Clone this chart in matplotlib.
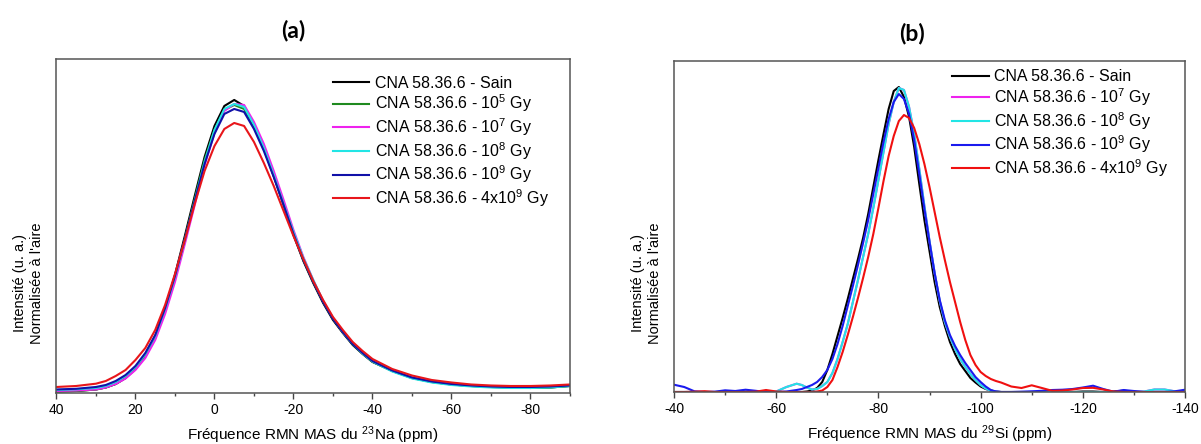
import matplotlib
matplotlib.use("Agg")
import matplotlib.pyplot as plt
from matplotlib.ticker import MultipleLocator

plt.rcParams["font.family"] = ["Liberation Sans", "DejaVu Sans"]
plt.rcParams["mathtext.fontset"] = "custom"
plt.rcParams["mathtext.rm"] = "Liberation Sans"
plt.rcParams["mathtext.it"] = "Liberation Sans:italic"
plt.rcParams["axes.unicode_minus"] = False

# --- (a) RMN 23Na : intensité normalisée (u. a.) ---
na_ppm = [40, 35, 30, 27.5, 25, 22.5, 20, 17.5, 15, 12.5, 10, 7.5, 5, 2.5, 0,
          -2.5, -5, -7.5, -10, -12.5, -15, -17.5, -20, -22.5, -25, -27.5, -30,
          -32.5, -35, -37.5, -40, -45, -50, -55, -60, -65, -70, -75, -80, -85, -90]
na_sain = [1.5, 2, 3.5, 5.5, 9, 15, 24, 37, 56, 84, 118, 157, 197, 236, 267,
           287, 293, 287, 268, 245, 217, 188, 158, 132, 110, 90, 73,
           60, 48, 39, 31, 22, 15, 11, 8.5, 7, 6, 5.5, 5, 5.5, 7]
na_1e5 = [1.5, 2, 3.5, 5.5, 9, 15, 24, 37, 55, 82, 115, 154, 194, 233, 263,
          283, 288, 284, 267, 244, 217, 189, 159, 133, 111, 91, 74,
          61, 49, 39.5, 31.5, 22, 15, 11, 8.5, 7, 6, 5.5, 5, 5.5, 7]
na_1e7 = [2, 2.5, 3.5, 5.5, 9, 14.5, 23, 35, 53, 79, 111, 149, 188, 228, 260,
          282, 289, 288, 271, 249, 222, 193, 163, 136, 113, 92, 75,
          61, 49.5, 40, 32, 22.5, 15.5, 11.5, 9, 7.5, 6.5, 6, 6, 6.5, 7.5]
na_1e8 = [3, 3.7, 5, 7, 11, 17, 26, 39, 57, 84, 116, 153, 192, 231, 263,
          284, 289, 286, 268, 245, 218, 189, 161, 135, 113, 92, 75,
          61, 49, 39.5, 31.5, 21.5, 14.5, 10.5, 8, 6.5, 5.5, 5, 5, 5.5, 7]
na_1e9 = [3.5, 4.2, 6, 8, 12, 18, 27, 40, 58, 85, 117, 154, 192, 229, 259,
          279, 284, 281, 264, 242, 216, 188, 159, 133, 111, 91, 74,
          61, 49, 40, 32, 22.5, 15.5, 11.5, 9, 7.5, 6.5, 6, 6, 6.5, 7.5]
na_4e9 = [6, 7, 9.3, 12, 17, 23, 33, 45, 63, 88, 119, 153, 189, 222, 247,
          264, 270, 267, 251, 230, 207, 182, 157, 134, 112, 93, 76,
          63, 51, 42, 34, 24, 17.5, 13, 10.5, 8.5, 7.5, 7, 7, 7.5, 8.5]

# --- (b) RMN 29Si ---
si_ppm = [-40, -42, -44, -46, -48, -50, -52, -54, -56, -58, -60, -62,
          -64, -65, -66, -67, -68, -69, -70, -71, -72, -73, -74, -75, -76, -77,
          -78, -79, -80, -81, -82, -83, -84,
          -85, -86, -87, -88, -89, -90, -91, -92, -93, -94, -95, -96, -97, -98,
          -99, -100, -101, -102, -103, -104,
          -106, -108, -110, -112, -114, -116, -118, -120, -122, -124, -126,
          -128, -130, -132, -134, -136, -138, -140]
si_sain = [0, 0, 0, 0, 0, 0.3, 0, 0.3, 0, 0, 0, 0,
           0, 0, 0.5, 1.5, 4, 10, 22, 38, 56, 74, 93, 113, 133, 154,
           178, 205, 232, 258, 283, 301, 305,
           295, 275, 245, 208, 172, 141, 110, 85, 66, 50, 38, 28, 21, 14,
           9.5, 5.5, 3, 1.5, 0.5, 0,
           0, 0, 0, 0, 0, 0, 0, 0.5, 0.5, 0, 0.5,
           1.3, 0.3, 0, 0, 0, 0, 0]
si_1e8 = [0, 0, 0, 0, 0, 0, 0, 0, 0, 0, 0.5, 5,
          8.3, 7, 4.5, 2.5, 3, 6, 10, 19, 33, 50, 68, 90, 112, 135,
          158, 184, 212, 240, 268, 290, 304,
          302, 285, 258, 223, 186, 151, 119, 91, 70, 55, 43, 33, 25, 18,
          12, 7, 3.5, 1.2, 0.3, 0,
          0, 0, 0, 0, 0, 0, 0, 0, 0, 0, 0,
          0, 0, 0.5, 2.5, 2.5, 0.7, 0.8]
si_1e7 = si_1e8  # courbe 10^7 Gy masquée sous la 10^8 Gy
si_1e9 = [7.3, 5, 0.7, 0, 0.3, 1.7, 1, 2.3, 1.2, 0, 0, 0.5,
          2, 3, 5, 7, 10, 15, 22, 33, 48, 66, 86, 106, 127, 149,
          172, 198, 224, 250, 273, 290, 298,
          293, 278, 252, 218, 183, 150, 119, 92, 72, 57, 46, 37, 29, 22,
          15, 10, 5.5, 2, 0.5, 0,
          0, 0.3, 0.7, 1.2, 2, 2.3, 3, 4.5, 6.3, 3, 0.3,
          2, 1, 0, 0, 0, 0.7, 2.3]
si_4e9 = [0, 0, 0.3, 0.8, 0, 0, 0, 0, 0.3, 2, 0.5, 0,
          0, 0, 0, 0, 0.5, 1.5, 5, 12, 25, 40, 57, 75, 94, 114,
          135, 158, 184, 211, 236, 256, 271,
          277, 274, 264, 248, 228, 205, 180, 155, 132, 110, 90, 70, 52, 37,
          27, 20, 16, 13, 11, 9.5,
          5.5, 4, 6.7, 4, 1.2, 1.5, 2.5, 4, 4.2, 2.5, 0.5,
          0, 0, 0, 0, 0, 0, 0]

labels_na = ["CNA 58.36.6 - Sain", "CNA 58.36.6 - 10$^{5}$ Gy",
             "CNA 58.36.6 - 10$^{7}$ Gy", "CNA 58.36.6 - 10$^{8}$ Gy",
             "CNA 58.36.6 - 10$^{9}$ Gy", "CNA 58.36.6 - 4x10$^{9}$ Gy"]
labels_si = ["CNA 58.36.6 - Sain", "CNA 58.36.6 - 10$^{7}$ Gy",
             "CNA 58.36.6 - 10$^{8}$ Gy", "CNA 58.36.6 - 10$^{9}$ Gy",
             "CNA 58.36.6 - 4x10$^{9}$ Gy"]


def style_axe(ax, xlim, ylim, xlabel):
    ax.set_xlim(*xlim)
    ax.set_ylim(*ylim)
    ax.set_yticks([])
    ax.xaxis.set_major_locator(MultipleLocator(20))
    ax.xaxis.set_minor_locator(MultipleLocator(10))
    ax.tick_params(axis="x", which="major", direction="out", length=4.5,
                   width=1, color="#444444", labelsize=10, pad=3)
    ax.tick_params(axis="x", which="minor", direction="out", length=2.5,
                   width=1, color="#444444")
    for sp in ax.spines.values():
        sp.set_color("#555555")
        sp.set_linewidth(1.1)
    ax.set_xlabel(xlabel, fontsize=11, labelpad=5)
    ax.set_ylabel("Intensité (u. a.)\nNormalisée à l'aire", fontsize=10.5,
                  linespacing=1.25)


def legende(ax, ancre):
    ax.legend(loc="upper left", bbox_to_anchor=ancre, frameon=False,
              fontsize=11.5, handlelength=2.3, handletextpad=0.35,
              labelspacing=0.12, borderpad=0, borderaxespad=0)


def main():
    fig = plt.figure(figsize=(12.01, 4.44), dpi=100)
    ax1 = fig.add_axes([0.047, 0.1149, 0.4276, 0.7523])
    ax2 = fig.add_axes([0.5612, 0.1171, 0.4255, 0.7455])

    # Panneau (a)
    couleurs_na = ["#000000", "#1f8a1f", "#ee22ee", "#22e5e5", "#1010a8", "#e8161b"]
    for y, c, lab in zip([na_sain, na_1e5, na_1e7, na_1e8, na_1e9, na_4e9],
                         couleurs_na, labels_na):
        ax1.plot(na_ppm, y, color=c, lw=1.5, label=lab, solid_joinstyle="round")
    style_axe(ax1, (40, -90), (0, 334), "Fréquence RMN MAS du $^{23}$Na (ppm)")
    ax1.yaxis.set_label_coords(-0.024, 0.33)
    legende(ax1, (0.538, 0.95))

    # Panneau (b)
    couleurs_si = ["#000000", "#ee22ee", "#22e5e5", "#1a1aee", "#f01010"]
    for y, c, lab in zip([si_sain, si_1e7, si_1e8, si_1e9, si_4e9],
                         couleurs_si, labels_si):
        ax2.plot(si_ppm, y, color=c, lw=1.5, label=lab, solid_joinstyle="round")
    style_axe(ax2, (-40, -140), (0, 331), "Fréquence RMN MAS du $^{29}$Si (ppm)")
    ax2.yaxis.set_label_coords(-0.0235, 0.33)
    legende(ax2, (0.544, 0.975))

    fig.text(0.244, 0.932, "(a)", ha="center", va="center", fontsize=16.5,
             fontweight="bold", family=["Lato", "DejaVu Sans"])
    fig.text(0.759, 0.925, "(b)", ha="center", va="center", fontsize=16.5,
             fontweight="bold", family=["Lato", "DejaVu Sans"])

    fig.savefig("out.png", dpi=100)


if __name__ == "__main__":
    main()
